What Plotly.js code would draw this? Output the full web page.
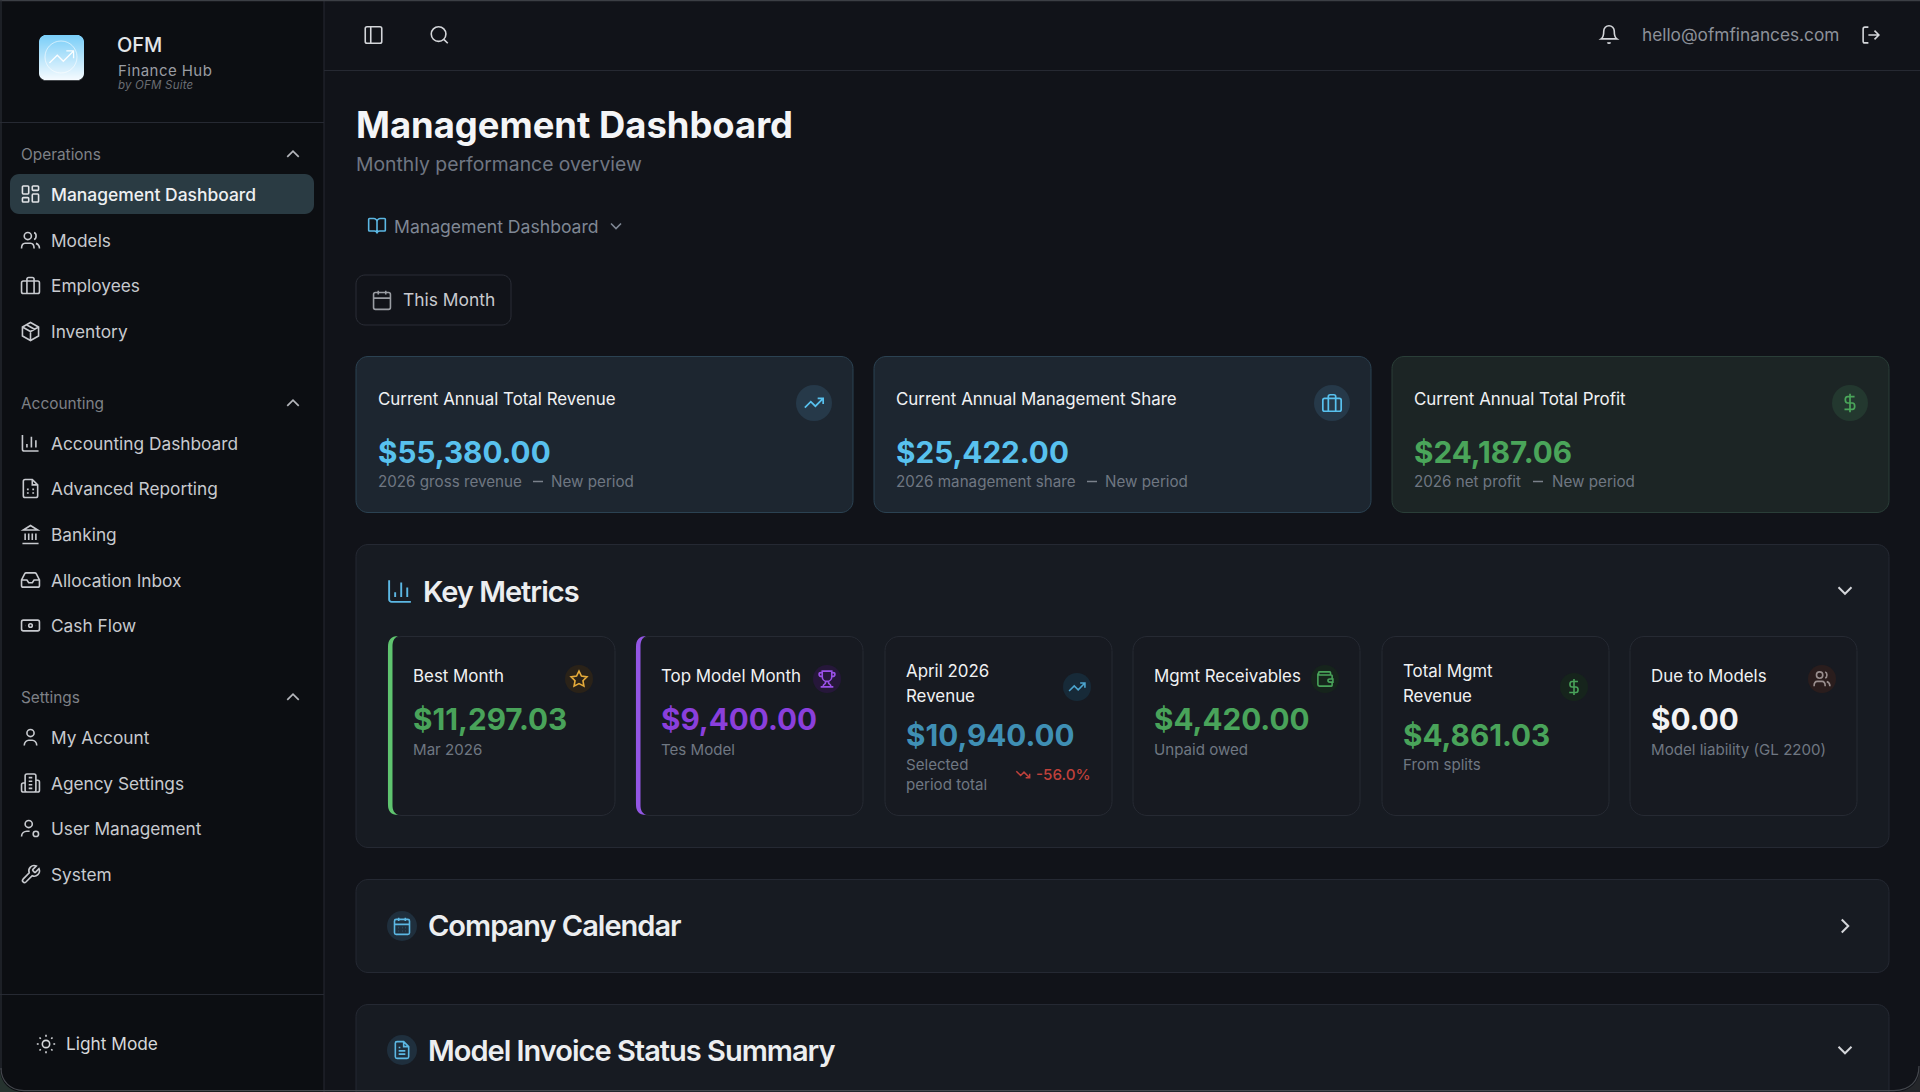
<!DOCTYPE html>
<html><head><meta charset="utf-8">
<script src="https://cdn.plot.ly/plotly-3.0.1.min.js"></script>
<style>html,body{margin:0;padding:0;background:#111319;overflow:hidden}#chart{width:1920px;height:1092px}
text[data-unformatted="Key Metrics"],text[data-unformatted="Company Calendar"],text[data-unformatted="Model Invoice Status Summary"]{letter-spacing:-1px}
text[data-unformatted="Finance Hub"]{letter-spacing:.45px}
text[data-unformatted="by OFM Suite"]{letter-spacing:.2px}
</style>
</head><body><div id="chart"></div>
<script>
// ---- content ----
const brandName = "OFM";
const brandSub = "Finance Hub";
const brandBy = "by OFM Suite";
const navSections = ["Operations", "Accounting", "Settings"];
const navOperations = ["Management Dashboard", "Models", "Employees", "Inventory"];
const navAccounting = ["Accounting Dashboard", "Advanced Reporting", "Banking", "Allocation Inbox", "Cash Flow"];
const navSettings = ["My Account", "Agency Settings", "User Management", "System"];
const pageTitle = "Management Dashboard";
const pageSubtitle = "Monthly performance overview";
const kpiTitles = ["Current Annual Total Revenue", "Current Annual Management Share", "Current Annual Total Profit"];
const kpiValues = ["$55,380.00", "$25,422.00", "$24,187.06"];
const kpiSubs = ["2026 gross revenue", "2026 management share", "2026 net profit"];
const metricTitles = [["Best Month"], ["Top Model Month"], ["April 2026", "Revenue"], ["Mgmt Receivables"], ["Total Mgmt", "Revenue"], ["Due to Models"]];
const metricValues = ["$11,297.03", "$9,400.00", "$10,940.00", "$4,420.00", "$4,861.03", "$0.00"];
const metricSubs = [["Mar 2026"], ["Tes Model"], ["Selected", "period total"], ["Unpaid owed"], ["From splits"], ["Model liability (GL 2200)"]];

// ---- helpers ----
const shapes = [], annotations = [];
const FONT = "Inter, 'Noto Sans', sans-serif";
function T(x, y, text, size, color, opt) {
  opt = opt || {};
  annotations.push({xref:'x', yref:'y', x, y, text, showarrow:false, xanchor:opt.anchor||'left', yanchor:'middle',
    borderpad:0, borderwidth:0, align:'left',
    font:{family:FONT, size, color, weight:opt.weight||400, style:opt.style||'normal'}});
}
function rrPath(x, y, w, h, r) {
  const k = r*0.45;
  return `M${x+r} ${y}L${x+w-r} ${y}C${x+w-k} ${y} ${x+w} ${y+k} ${x+w} ${y+r}L${x+w} ${y+h-r}C${x+w} ${y+h-k} ${x+w-k} ${y+h} ${x+w-r} ${y+h}L${x+r} ${y+h}C${x+k} ${y+h} ${x} ${y+h-k} ${x} ${y+h-r}L${x} ${y+r}C${x} ${y+k} ${x+k} ${y} ${x+r} ${y}Z`;
}
function RR(x0, y0, x1, y1, r, fill, line, lw) {
  shapes.push({type:'path', xref:'x', yref:'y', path:rrPath(x0,y0,x1-x0,y1-y0,r), fillcolor:fill, line:{color:line||'rgba(0,0,0,0)', width:line?(lw||1):0}, layer:'below'});
}
function Rect(x0, y0, x1, y1, fill) {
  shapes.push({type:'rect', xref:'x', yref:'y', x0, y0, x1, y1, fillcolor:fill, line:{width:0}, layer:'below'});
}
function Line(x0, y0, x1, y1, color, w) {
  shapes.push({type:'line', xref:'x', yref:'y', x0, y0, x1, y1, line:{color, width:w||1}, layer:'below'});
}
function Circle(cx, cy, r, fill) {
  shapes.push({type:'circle', xref:'x', yref:'y', x0:cx-r, y0:cy-r, x1:cx+r, y1:cy+r, fillcolor:fill, line:{width:0}, layer:'below'});
}
const circ = (cx,cy,r)=>{const k=r*0.5523;return `M${cx+r} ${cy}C${cx+r} ${cy+k} ${cx+k} ${cy+r} ${cx} ${cy+r}C${cx-k} ${cy+r} ${cx-r} ${cy+k} ${cx-r} ${cy}C${cx-r} ${cy-k} ${cx-k} ${cy-r} ${cx} ${cy-r}C${cx+k} ${cy-r} ${cx+r} ${cy-k} ${cx+r} ${cy}Z`;};
const rr = (x,y,w,h,r)=>rrPath(x,y,w,h,r);
const icons = {
  dashboard: rr(3,3,7,9,1)+rr(14,3,7,5,1)+rr(14,12,7,9,1)+rr(3,16,7,5,1),
  users: circ(9,7,4)+'M2 21C2 17 4 15 6 15L12 15C14 15 16 17 16 21M22 21C22 18 20.5 16 18 15.2M16 3.2C19 4 19 10 16 10.8',
  briefcase: rr(2,7,20,14,2)+'M8 21L8 5C8 3.6 9 3 10 3L14 3C15 3 16 3.6 16 5L16 21',
  pack: 'M12 2L21 7L21 17L12 22L3 17L3 7ZM3 7L12 12L21 7M12 12L12 22M7.5 4.5L16.5 9.5',
  up: 'M6 15L12 9L18 15', down: 'M6 9L12 15L18 9', right: 'M9 6L15 12L9 18',
  bars: 'M3 3L3 19C3 20 4 21 5 21L21 21M8 17L8 13M13 17L13 5M18 17L18 9',
  sheet: 'M6 2L14 2L20 8L20 20C20 21 19 22 18 22L6 22C5 22 4 21 4 20L4 4C4 3 5 2 6 2ZM14 2L14 8L20 8M8 13L10 13M14 13L16 13M8 17L10 17M14 17L16 17',
  bank: 'M3 22L21 22M6 18L6 11M10 18L10 11M14 18L14 11M18 18L18 11M12 2L20 7L4 7Z',
  inbox: 'M22 12L16 12L14 15L10 15L8 12L2 12M5.45 5.11L2 12L2 18C2 19 3 20 4 20L20 20C21 20 22 19 22 18L22 12L18.55 5.11C18.2 4.4 17.5 4 16.76 4L7.24 4C6.5 4 5.8 4.4 5.45 5.11Z',
  note: rr(2,6,20,12,2)+circ(12,12,2)+'M6 12L6.2 12M18 12L18.2 12',
  user: circ(12,7,4)+'M19 21C19 17 16 15 14 15L10 15C8 15 5 17 5 21',
  building: rr(6,2,12,20,2)+'M6 12L4 12C3 12 2 13 2 14L2 20C2 21 3 22 4 22L6 22M18 9L20 9C21 9 22 10 22 11L22 20C22 21 21 22 20 22L18 22M10 6L14 6M10 10L14 10M10 14L14 14M10 18L14 18',
  userCog: circ(10,7,4)+circ(18,18,3)+'M2 21C2 17 5 15 8 15L11 15',
  wrench: 'M14.7 6.3C14.3 6.7 14.3 7.3 14.7 7.7L16.3 9.3C16.7 9.7 17.3 9.7 17.7 9.3L21.47 5.53C22.5 7.8 22 10.5 20.2 12.2C18.5 13.9 16 14.3 13.9 13.4L6.9 20.4C6 21.2 4.6 21.2 3.8 20.3C2.9 19.5 2.9 18.1 3.7 17.2L10.6 10.2C9.7 8 10.2 5.5 11.9 3.8C13.6 2.1 16.2 1.6 18.47 2.53Z',
  sun: circ(12,12,4)+'M12 2L12 4M12 20L12 22M4.9 4.9L6.3 6.3M17.7 17.7L19.1 19.1M2 12L4 12M20 12L22 12M6.3 17.7L4.9 19.1M19.1 4.9L17.7 6.3',
  panel: rr(3,3,18,18,2)+'M9 3L9 21',
  search: circ(11,11,8)+'M21 21L16.7 16.7',
  bell: 'M6 8C6 4.7 8.7 2 12 2C15.3 2 18 4.7 18 8C18 15 21 17 21 17L3 17C3 17 6 15 6 8ZM10.3 21C10.7 21.7 11.3 22 12 22C12.7 22 13.3 21.7 13.7 21',
  logout: 'M9 21L5 21C4 21 3 20 3 19L3 5C3 4 4 3 5 3L9 3M16 17L21 12L16 7M21 12L9 12',
  book: 'M12 7L12 21M3 18C2.4 18 2 17.6 2 17L2 4C2 3.4 2.4 3 3 3L8 3C10.2 3 12 4.8 12 7C12 4.8 13.8 3 16 3L21 3C21.6 3 22 3.4 22 4L22 17C22 17.6 21.6 18 21 18L15 18C13.3 18 12 19.3 12 21C12 19.3 10.7 18 9 18Z',
  calendar: rr(3,4,18,18,2)+'M16 2L16 6M8 2L8 6M3 10L21 10',
  calDays: rr(3,4,18,18,2)+'M16 2L16 6M8 2L8 6M3 10L21 10M8 14L8.2 14M12 14L12.2 14M16 14L16.2 14M8 18L8.2 18M12 18L12.2 18M16 18L16.2 18',
  trendUp: 'M22 7L13.5 15.5L8.5 10.5L2 17M16 7L22 7L22 13',
  trendDown: 'M22 17L13.5 8.5L8.5 13.5L2 7M16 17L22 17L22 11',
  dollar: 'M12 2L12 22M17 5L9.5 5C6 5 6 12 9.5 12L14.5 12C18 12 18 19 14.5 19L6 19',
  star: 'M12 2L15.1 8.3L22 9.3L17 14.1L18.2 21L12 17.8L5.8 21L7 14.1L2 9.3L8.9 8.3Z',
  trophy: 'M6 9C3 9 2 8 2 6C2 5 3 4 4.5 4L6 4M18 9C21 9 22 8 22 6C22 5 21 4 19.5 4L18 4M4 22L20 22M10 14.7L10 17C10 17.5 9.5 18 9 18.2C7.8 18.8 7 20.2 7 22M14 14.7L14 17C14 17.5 14.5 18 15 18.2C16.2 18.8 17 20.2 17 22M18 2L6 2L6 9C6 12.3 8.7 15 12 15C15.3 15 18 12.3 18 9Z',
  wallet: 'M19 7L19 4C19 3.4 18.6 3 18 3L5 3C3.3 3 3.3 7 5 7L20 7C20.6 7 21 7.4 21 8L21 12M3 5L3 19C3 20 4 21 5 21L20 21C20.6 21 21 20.6 21 20L21 16M18 12C15 12 15 16 18 16L22 16L22 12Z',
  file: 'M6 2L14 2L20 8L20 20C20 21 19 22 18 22L6 22C5 22 4 21 4 20L4 4C4 3 5 2 6 2ZM14 2L14 8L20 8M16 13L8 13M16 17L8 17M10 9L8 9'
};
function Icon(name, cx, cy, size, color, lw) {
  const s = size/24;
  const path = icons[name].replace(/(-?[\d.]+) (-?[\d.]+)/g, (m,a,b)=>`${(cx+(+a-12)*s).toFixed(2)} ${(cy+(+b-12)*s).toFixed(2)}`);
  shapes.push({type:'path', xref:'x', yref:'y', path, fillcolor:'rgba(0,0,0,0)', line:{color, width:lw||1.7}, layer:'below'});
}

// ---- backgrounds ----
const cMain = '#111319', cSide = '#0c0e12', cLine = '#262932', cPanel = '#171b22', cPanelLine = '#252933';
Rect(0, 0, 1920, 1092, cMain);
Rect(0, 0, 324, 1092, cSide);
Line(324, 0, 324, 1092, cLine);
Line(324, 70.5, 1920, 70.5, cLine);
Line(0, 122.5, 324, 122.5, cLine);
Line(0, 994.5, 324, 994.5, cLine);

// ---- logo ----
const logoX=39, logoY=35, logoS=45, logoR=7;
for (let i=0;i<logoS;i++){
  const d = i<logoR ? logoR-i-0.5 : (i>=logoS-logoR ? i-(logoS-logoR)+0.5 : 0);
  const inset = d>0 ? logoR-Math.sqrt(logoR*logoR-d*d) : 0;
  const t=i/(logoS-1);
  const c=`rgb(${Math.round(122+t*122)},${Math.round(206+t*44)},${Math.round(248+t*6)})`;
  Rect(logoX+inset, logoY+i, logoX+logoS-inset, logoY+i+1.2, c);
}
Icon('trendUp', 61.5, 57, 29, 'rgba(255,255,255,0.95)', 1.3);
shapes.push({type:'path',xref:'x',yref:'y',path:circ(61,57,16),fillcolor:'rgba(0,0,0,0)',line:{color:'rgba(255,255,255,0.6)',width:1},layer:'below'});
T(117, 45, brandName, 20, '#e4e6e9', {weight:500});
T(117.5, 70, brandSub, 15, '#9a9da3');
T(117.5, 85, brandBy, 11.5, '#6a6d73', {style:'italic'});

// ---- sidebar nav ----
const cNav='#c8cacf', cSec='#7e8187';
RR(10, 174, 314, 214, 9, '#2a3b43');
const nav = [
 [navSections[0],154,navOperations,[194,240.5,285.5,331.5],['dashboard','users','briefcase','pack']],
 [navSections[1],403,navAccounting,[443,488.5,534.5,580,625.5],['bars','sheet','bank','inbox','note']],
 [navSections[2],697,navSettings,[737.5,783,828.5,874.5],['user','building','userCog','wrench']]
];
nav.forEach(([sec,sy,items,ys,ics])=>{
  T(20.5, sy, sec, 15.4, cSec);
  Icon('up', 293, sy, 23, '#b4b6bb', 1.7);
  items.forEach((it,i)=>{
    const sel = it===navOperations[0];
    T(51, ys[i], it, sel?17.45:17.3, sel?'#eef0f2':cNav, {weight:sel?500:400});
    Icon(ics[i], 30.5, ys[i], 21.5, sel?'#e2e4e7':cNav, 1.6);
  });
});
Icon('sun', 46, 1044, 22, '#d6d8db', 1.6);
T(66, 1043.5, 'Light Mode', 17.3, '#d6d8db');

// ---- top bar ----
Icon('panel', 373.5, 35, 22, '#d4d6da', 1.6);
Icon('search', 439.5, 35, 22, '#d4d6da', 1.6);
Icon('bell', 1609, 34.5, 21, '#d4d6da', 1.6);
T(1642, 34.5, 'hello@ofmfinances.com', 17.25, '#8d9199');
Icon('logout', 1871, 35, 21, '#d4d6da', 1.6);

// ---- page head ----
T(356, 125, pageTitle, 36.4, '#f4f5f7', {weight:700});
T(356, 163.5, pageSubtitle, 19.35, '#6f7682');
Icon('book', 377, 226, 20, '#5cb8e4', 1.6);
T(394, 226, pageTitle, 17.6, '#7f8794');
Icon('down', 616, 226, 20, '#7f8794', 1.6);
RR(356, 275, 511, 325, 9, 'rgba(0,0,0,0)', '#2a2d36', 1);
Icon('calendar', 382, 300, 22.5, '#9a9da3', 1.6);
T(403, 299.5, 'This Month', 17.4, '#c8cacf');

// ---- KPI cards ----
const kpiX = [356, 874, 1392];
const kpiDraw = [
 {fill:'#1d2630', line:'#2b4252', circ:'#263949', col:'#58c1ee', icon:'trendUp', subX:[533,551]},
 {fill:'#1d2630', line:'#2b4252', circ:'#263949', col:'#58c1ee', icon:'briefcase', subX:[1087,1105]},
 {fill:'#1c2525', line:'#2a3e38', circ:'#23382f', col:'#4aa55a', icon:'dollar', subX:[1533,1552]}
];
kpiX.forEach((x,i)=>{
  const d=kpiDraw[i];
  RR(x, 356.5, x+497, 512.5, 12, d.fill, d.line, 1);
  Circle(x+458, 403, 18, d.circ);
  Icon(d.icon, x+458, 403, 22, d.col, 1.7);
  T(x+21.5, 399, kpiTitles[i], 16.9, '#f0f1f3', {weight:400});
  T(x+21.5, 452, kpiValues[i], 29.7, d.col, {weight:700});
  T(x+21.5, 481.5, kpiSubs[i], 15.2, '#6f7782');
  Line(d.subX[0], 481.5, d.subX[0]+10, 481.5, '#7a818b', 1.5);
  T(d.subX[1], 481.5, 'New period', 15.2, '#6f7782');
});

// ---- key metrics panel ----
RR(356, 544.5, 1889, 847.5, 12, cPanel, cPanelLine, 1);
Icon('bars', 400, 591, 29, '#5cb8e4', 1.9);
T(423, 591, 'Key Metrics', 29, '#eceef0', {weight:600});
Icon('down', 1845, 590.5, 26, '#d4d6da', 2);

const mX = [388, 636, 885, 1133, 1382, 1630], mW = 227;
const mDraw = [
 {col:'#49a35a', circ:'#2a2218', ic:'star', icCol:'#e6ab3a', accent:'#5fc46f'},
 {col:'#8a3fdc', circ:'#26173a', ic:'trophy', icCol:'#9a50e8', accent:'#9356e4'},
 {col:'#3f8fb4', circ:'#172a38', ic:'trendUp', icCol:'#4ca5cf'},
 {col:'#49a35a', circ:'#16241c', ic:'wallet', icCol:'#49a35a'},
 {col:'#49a35a', circ:'#16241c', ic:'dollar', icCol:'#49a35a'},
 {col:'#f2f3f5', circ:'#2a1d1d', ic:'users', icCol:'#9a8f8f'}
];
mX.forEach((x,i)=>{
  const d=mDraw[i], two=metricTitles[i].length>1;
  RR(x, 636.5, x+mW, 815.5, 14, '#171a21', '#262a33', 1);
  if (d.accent) shapes.push({type:'path', xref:'x', yref:'y', layer:'below', fillcolor:d.accent, line:{width:0},
    path:`M${x+10} 636C${x+3} 636 ${x} 640 ${x} 647L${x} 805C${x} 811 ${x+3} 815 ${x+10} 815C${x+6} 813 ${x+4.5} 810 ${x+4.5} 805L${x+4.5} 647C${x+4.5} 641 ${x+6} 638 ${x+10} 636Z`});
  const tx = x+(d.accent?24.8:21);
  const cy = two?687:679;
  Circle(x+(i<2?191:192), cy, 14, d.circ);
  Icon(d.ic, x+(i<2?191:192), cy, 19, d.icCol, 1.6);
  metricTitles[i].forEach((t,j)=>T(tx, two?671+25*j:676, t, 16.9, '#f0f1f3', {weight:400}));
  T(tx, two?735:719, metricValues[i], 29.7, d.col, {weight:700});
  metricSubs[i].forEach((t,j)=>T(tx, (two?764:749)+20*j, t, 15.1, '#6f7782'));
});
Icon('trendDown', 1023, 774.5, 16, '#c0413b', 1.5);
T(1036, 774.5, '-56.0%', 15.2, '#c0413b', {weight:500});

// ---- collapsed panels ----
RR(356, 879.5, 1889, 972.5, 12, cPanel, cPanelLine, 1);
Circle(402, 926, 15, '#1f2f3d');
Icon('calDays', 402, 926, 20, '#5cb8e4', 1.6);
T(428, 925.5, 'Company Calendar', 29, '#eceef0', {weight:600});
Icon('right', 1845, 926, 26, '#d4d6da', 2);

RR(356, 1004.5, 1889, 1130, 12, cPanel, cPanelLine, 1);
Circle(402, 1050, 15, '#1f2f3d');
Icon('file', 402, 1050, 20, '#5cb8e4', 1.6);
T(428, 1050, 'Model Invoice Status Summary', 29, '#eceef0', {weight:600});
Icon('down', 1845, 1050, 26, '#d4d6da', 2);

// ---- window frame ----
Line(0, 0.6, 1920, 0.6, '#3c3f45', 1.4);
Line(1, 0, 1, 1070, '#2b2e35', 1.2);
shapes.push({type:'path',xref:'x',yref:'y',layer:'below',fillcolor:'#26332f',line:{width:0},path:'M0 1068C0 1082 9 1092 24 1092L0 1092Z'});
shapes.push({type:'path',xref:'x',yref:'y',layer:'below',fillcolor:'#24262a',line:{width:0},path:'M1920 1066C1920 1082 1911 1092 1894 1092L1920 1092Z'});
shapes.push({type:'path',xref:'x',yref:'y',layer:'below',fillcolor:'rgba(0,0,0,0)',line:{color:'#44474d',width:1.2},path:'M1 1068C1 1081 10 1090.6 24 1090.6L1894 1090.6C1910 1090.6 1919 1081 1919 1066'});

const axis = r => ({range:r, visible:false, fixedrange:true, showgrid:false, zeroline:false});
Plotly.newPlot('chart', [], {
  width:1920, height:1092, margin:{l:0,r:0,t:0,b:0,pad:0},
  paper_bgcolor:cMain, plot_bgcolor:cMain, showlegend:false,
  xaxis:axis([0,1920]), yaxis:axis([1092,0]),
  shapes, annotations
}, {displayModeBar:false, staticPlot:true});
</script></body></html>
